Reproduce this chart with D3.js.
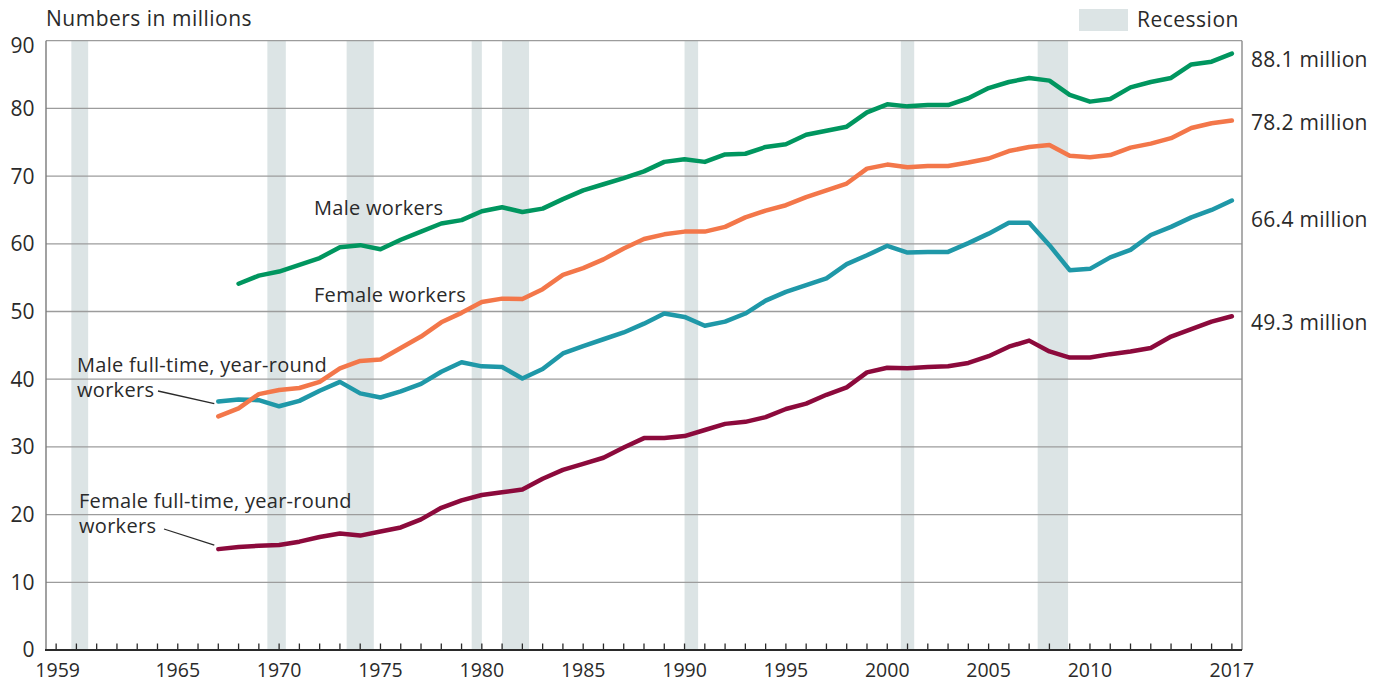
<!DOCTYPE html>
<html><head><meta charset="utf-8">
<script src="https://cdn.jsdelivr.net/npm/d3@7"></script>
<style>
body{margin:0;background:#fff}
text{font-family:'Open Sans',sans-serif;fill:#2a2a2a}
</style>
</head><body>
<svg id="chart" width="1375" height="683"></svg>
<script>
// ---------- data ----------
const years = [1967,1968,1969,1970,1971,1972,1973,1974,1975,1976,1977,1978,1979,1980,1981,1982,1983,1984,1985,1986,1987,1988,1989,1990,1991,1992,1993,1994,1995,1996,1997,1998,1999,2000,2001,2002,2003,2004,2005,2006,2007,2008,2009,2010,2011,2012,2013,2014,2015,2016,2017];
const maleWorkers = [null,54.1,55.3,55.9,56.9,57.9,59.5,59.8,59.2,60.6,61.8,63.0,63.5,64.8,65.4,64.7,65.2,66.6,67.9,68.8,69.7,70.7,72.1,72.5,72.1,73.2,73.3,74.3,74.7,76.1,76.7,77.3,79.4,80.6,80.3,80.5,80.5,81.5,83.0,83.9,84.5,84.1,82.0,81.0,81.4,83.1,83.9,84.5,86.5,86.9,88.1];
const femaleWorkers = [34.5,35.7,37.8,38.4,38.7,39.6,41.6,42.7,42.9,44.6,46.3,48.4,49.8,51.4,51.9,51.85,53.3,55.4,56.4,57.7,59.3,60.7,61.4,61.8,61.8,62.5,63.9,64.9,65.7,66.9,67.9,68.9,71.1,71.7,71.3,71.5,71.5,72.0,72.6,73.7,74.3,74.6,73.0,72.8,73.1,74.2,74.8,75.6,77.1,77.8,78.2];
const maleFullTime = [36.7,37.0,36.9,36.0,36.8,38.3,39.6,37.9,37.3,38.2,39.3,41.1,42.5,41.9,41.8,40.1,41.5,43.8,44.9,45.9,46.9,48.2,49.7,49.2,47.9,48.5,49.7,51.6,52.9,53.9,54.9,57.0,58.3,59.7,58.7,58.8,58.8,60.1,61.5,63.1,63.1,59.8,56.1,56.3,58.0,59.1,61.3,62.5,63.9,65.0,66.4];
const femaleFullTime = [14.9,15.2,15.4,15.5,16.0,16.7,17.2,16.9,17.5,18.1,19.3,21.0,22.1,22.9,23.3,23.7,25.3,26.6,27.5,28.4,29.9,31.3,31.3,31.6,32.5,33.4,33.7,34.4,35.6,36.4,37.7,38.8,41.0,41.7,41.6,41.8,41.9,42.4,43.4,44.8,45.7,44.1,43.2,43.2,43.7,44.1,44.6,46.3,47.4,48.5,49.3];
const recessionStarts = [1960.25,1969.92,1973.83,1980.0,1981.5,1990.5,2001.17,2007.92];
const recessionEnds   = [1961.08,1970.83,1975.17,1980.5,1982.83,1991.17,2001.83,2009.42];
const yTickValues = [0,10,20,30,40,50,60,70,80,90];
const xLabelYears = [1959,1965,1970,1975,1980,1985,1990,1995,2000,2005,2010,2017];

// ---------- layout ----------
const svg = d3.select('#chart');
const L = 46, R = 1242, T = 40.7, B = 650;
const FS = '21px';
const x = d3.scaleLinear().domain([1959, 2018]).range([L, R]);
const xp = yr => x(yr + 0.5); // annual values plotted at mid-year
const y = d3.scaleLinear().domain([0, 90]).range([B, T]);

// recession bands
svg.append('g').selectAll('rect').data(recessionStarts.map((s,i)=>[s,recessionEnds[i]]))
  .join('rect')
  .attr('x', d=>x(d[0])).attr('width', d=>x(d[1])-x(d[0]))
  .attr('y', T).attr('height', B-T).attr('fill', '#dce4e5');

// gridlines
svg.append('g').selectAll('line').data(yTickValues.filter(v=>v>0)).join('line')
  .attr('x1', L).attr('x2', R).attr('y1', d=>y(d)).attr('y2', d=>y(d))
  .attr('stroke', '#9c9c9c').attr('stroke-width', 1.3);

// left & right frame
svg.append('line').attr('x1',L).attr('x2',L).attr('y1',T).attr('y2',B).attr('stroke','#7a7a7a').attr('stroke-width',1.4);
svg.append('line').attr('x1',R).attr('x2',R).attr('y1',T).attr('y2',B).attr('stroke','#8a8a8a').attr('stroke-width',1.4);

// y axis labels
const yAxis = d3.axisLeft(y).tickValues(yTickValues).tickSize(0).tickPadding(11.5);
const gy = svg.append('g').attr('transform', `translate(${L},0)`).call(yAxis);
gy.select('.domain').remove();
gy.selectAll('text').style('font-size',FS).style('font-family',"'Open Sans',sans-serif").attr('fill','#2a2a2a')
  .attr('dy', d => d===90 ? '0.55em' : '0.33em');

// x axis
const tickYears = d3.range(1959, 2018);
const gx = svg.append('g').attr('transform', `translate(0,${B})`);
gx.selectAll('line.tk').data(tickYears).join('line').attr('class','tk')
  .attr('x1', d=>xp(d)).attr('x2', d=>xp(d)).attr('y1', 0).attr('y2', -6.5)
  .attr('stroke', '#2a2a2a').attr('stroke-width', 1.3);
gx.append('line').attr('x1', L-1).attr('x2', R).attr('y1', 0).attr('y2', 0)
  .attr('stroke', '#2a2a2a').attr('stroke-width', 2);
gx.selectAll('text').data(xLabelYears).join('text')
  .attr('x', d=>xp(d) + (d===1959 ? 1.5 : 0)).attr('y', 27).attr('text-anchor','middle')
  .style('font-size','19.5px').text(d=>d);

// lines
const series = [
  {values: femaleFullTime, color: '#8c0a3c'},
  {values: maleFullTime, color: '#1f98a8'},
  {values: femaleWorkers, color: '#f3774a'},
  {values: maleWorkers, color: '#00965f'}
];
const line = d3.line().defined(d=>d[1]!=null).x(d=>xp(d[0])).y(d=>y(d[1]));
svg.append('g').selectAll('path').data(series).join('path')
  .attr('d', s => line(years.map((yr,i)=>[yr, s.values[i]])))
  .attr('fill','none').attr('stroke', s=>s.color).attr('stroke-width', 4.5)
  .attr('stroke-linejoin','round').attr('stroke-linecap','round');

// end labels
const endOffsets = [13.5, 9, 27, 14];
const endSeries = [maleWorkers, femaleWorkers, maleFullTime, femaleFullTime];
svg.append('g').selectAll('text').data(endSeries).join('text')
  .attr('x', 1251).attr('y', (s,i)=>y(s[s.length-1]) + endOffsets[i])
  .style('font-size',FS).style('letter-spacing','0.3px')
  .text(s=>d3.format('.1f')(s[s.length-1]) + ' million');

// annotations
const ann = svg.append('g').style('font-size','20px').style('letter-spacing','0.3px');
ann.append('text').attr('x',314).attr('y',215).text('Male workers');
ann.append('text').attr('x',314).attr('y',301.5).text('Female workers');
const a1 = ann.append('text').attr('x',77).attr('y',371.5);
a1.append('tspan').attr('x',77).text('Male full-time, year-round');
a1.append('tspan').attr('x',77).attr('dy',25).text('workers');
const a2 = ann.append('text').attr('x',79).attr('y',508);
a2.append('tspan').attr('x',79).text('Female full-time, year-round');
a2.append('tspan').attr('x',79).attr('dy',25).text('workers');
svg.append('line').attr('x1',158).attr('y1',391).attr('x2',xp(1967)-4).attr('y2',y(maleFullTime[0])+2)
  .attr('stroke','#2a2a2a').attr('stroke-width',1.3);
svg.append('line').attr('x1',164).attr('y1',529).attr('x2',xp(1967)-4).attr('y2',y(femaleFullTime[0])-4)
  .attr('stroke','#2a2a2a').attr('stroke-width',1.3);

// title
svg.append('text').attr('x',46).attr('y',26).style('font-size',FS).style('letter-spacing','0.5px').text('Numbers in millions');

// legend
svg.append('rect').attr('x',1079).attr('y',9).attr('width',49).attr('height',22).attr('fill','#dce4e5');
svg.append('text').attr('x',1137).attr('y',26.5).style('font-size',FS).style('letter-spacing','0.5px').text('Recession');
</script>
</body></html>
